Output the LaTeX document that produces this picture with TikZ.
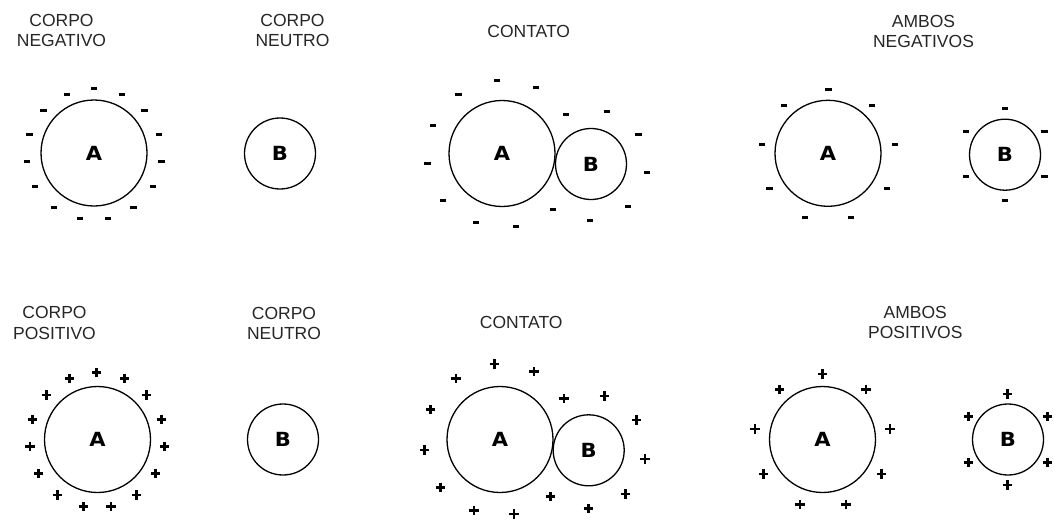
\documentclass[tikz,border=0pt]{standalone}
\usepackage{fontspec}
\setmainfont{Liberation Sans}
\newfontfamily\ballfont{DejaVu Sans}
\newcommand{\ballletter}[1]{\scalebox{1.08}[1]{#1}}
\begin{document}
\begin{tikzpicture}[x=1pt,y=-1pt,
  lbl/.style={font=\fontsize{17.5}{20.3}\selectfont, text=black!85, align=center, inner sep=0pt},
  bigball/.style={circle, draw, line width=1.3pt, minimum size=106pt, inner sep=0pt, font=\ballfont\fontsize{19.5}{20}\selectfont\bfseries},
  smallball/.style={circle, draw, line width=1.3pt, minimum size=71pt, inner sep=0pt, font=\ballfont\fontsize{19.5}{20}\selectfont\bfseries},
  minuspic/.pic={\fill (-3.2,-1.5) rectangle (3.2,1.5);},
  pluspic/.pic={\draw[line width=2.6pt] (-4.6,0)--(4.6,0) (0,-4.6)--(0,4.6);}
]
\useasboundingbox (0,0) rectangle (1054,520);

% ---------- top row: negative ----------
\node[lbl] (t1) at (61.5,30.7) {CORPO\\NEGATIVO};
\node[lbl] (t2) at (292.5,30.2) {CORPO\\NEUTRO};
\node[lbl] (t3) at (528.7,31.7) {CONTATO};
\node[lbl] (t4) at (923.5,31.7) {AMBOS\\NEGATIVOS};

\node[bigball] (A1) at (94,153) {\ballletter{A}};
\node[smallball] (B1) at (280,153.5) {\ballletter{B}};
\node[bigball] (A2) at (502,153.5) {\ballletter{A}};
\node[smallball] (B2) at (591,164) {\ballletter{B}};
\node[bigball] (A3) at (828,153.3) {\ballletter{A}};
\node[smallball] (B3) at (1005,154.7) {\ballletter{B}};

\foreach \p in {(94,88),(66.7,94.3),(121.7,94.3),(43.3,110),(144.3,110),(29.3,134.3),(158.7,134.3),(26.7,161),(161.3,161),(35,186.7),(152.7,186.7),(54,207.3),(133.3,207.3),(80,218.3),(108,218.3)}
  \pic at \p {minuspic};
\foreach \p in {(496.7,80),(458.3,94.3),(536,87.7),(432.7,125),(566,114),(606.7,111),(638.3,134.3),(427.3,163.7),(646.7,172.7),(442.7,200),(552.7,209.3),(627.7,206.7),(476,222.7),(516,226.7),(590,220)}
  \pic at \p {minuspic};
\foreach \p in {(828.3,89.3),(784,105),(872,105),(761.7,144.3),(895,144.3),(769.3,188.3),(886.7,188.3),(805,217.7),(851,217.7),(1005,108.3),(965.7,131.7),(1044.3,131.7),(965.7,176.7),(1044.3,176.7),(1005,200)}
  \pic at \p {minuspic};

% ---------- bottom row: positive ----------
\node[lbl] (u1) at (54.5,323) {CORPO\\POSITIVO};
\node[lbl] (u2) at (284,323.3) {CORPO\\NEUTRO};
\node[lbl] (u3) at (521.2,322.7) {CONTATO};
\node[lbl] (u4) at (915.3,322.8) {AMBOS\\POSITIVOS};

\node[bigball] (A4) at (97.5,439.5) {\ballletter{A}};
\node[smallball] (B4) at (283,439.5) {\ballletter{B}};
\node[bigball] (A5) at (500,439.5) {\ballletter{A}};
\node[smallball] (B5) at (588.7,450.3) {\ballletter{B}};
\node[bigball] (A6) at (822.5,439.5) {\ballletter{A}};
\node[smallball] (B6) at (1008,439.5) {\ballletter{B}};

\foreach \p in {(96.7,372.3),(69.3,378.3),(124.3,378.3),(46.7,395),(146.7,395),(32.3,419.3),(161.7,419.3),(30,446.7),(164.3,446.7),(38.3,473.3),(155.3,473.3),(57.3,495),(136.7,495),(83.3,506.7),(111,506.7)}
  \pic at \p {pluspic};
\foreach \p in {(494.3,364),(456,378.3),(534,371.7),(430.7,409.3),(564,398.3),(604.3,396),(636.7,420),(424.3,450),(645,459),(440.7,487.3),(550.7,496.7),(625.7,494),(474,510.7),(514,514),(588.3,508.3)}
  \pic at \p {pluspic};
\foreach \p in {(822.3,374),(779.3,389.3),(866,389.3),(755,429),(890,429),(763.3,474),(881.7,474),(800,504.3),(846,504.3),(1007.3,394),(968.3,416.7),(1047.3,416.7),(968.3,462.7),(1047.3,462.7),(1007.3,485)}
  \pic at \p {pluspic};
\end{tikzpicture}
\end{document}
